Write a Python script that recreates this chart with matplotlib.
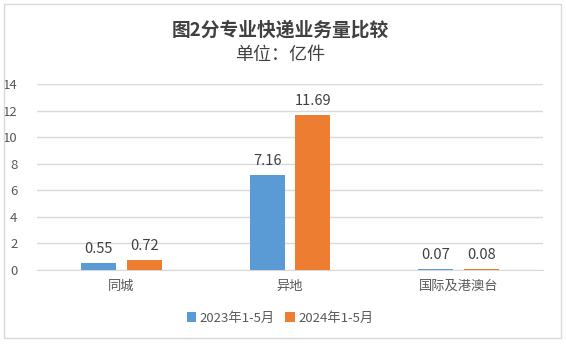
import numpy as np
import matplotlib
matplotlib.use('Agg')
import matplotlib.pyplot as plt
from matplotlib.patches import Rectangle

plt.rcParams['font.family'] = ['Noto Sans CJK SC', 'DejaVu Sans']

# 数据
categories = ['同城', '异地', '国际及港澳台']
series_names = ['2023年1-5月', '2024年1-5月']
values_2023 = [0.55, 7.16, 0.07]
values_2024 = [0.72, 11.69, 0.08]
colors = ['#5B9BD5', '#ED7D31']

W, H = 566, 344
fig = plt.figure(figsize=(W / 100, H / 100), dpi=100)
ax = fig.add_axes([37 / W, (H - 270) / H, (543 - 37) / W, (270 - 84) / H])

x = np.arange(len(categories))
bw = 0.207
off = 0.136
b1 = ax.bar(x - off, values_2023, bw, color=colors[0], label=series_names[0], zorder=3)
b2 = ax.bar(x + off, values_2024, bw, color=colors[1], label=series_names[1], zorder=3)

for bars, vals in ((b1, values_2023), (b2, values_2024)):
    for rect, v in zip(bars, vals):
        ax.annotate(f'{v:.2f}', (rect.get_x() + rect.get_width() / 2, v),
                    xytext=(0, 5), textcoords='offset points',
                    ha='center', va='bottom', fontsize=10.5, color='#404040')

ax.set_xlim(-0.5, 2.5)
ax.set_ylim(0, 14)
ax.set_yticks(range(0, 15, 2))
ax.set_xticks(x)
ax.set_xticklabels(categories)
ax.tick_params(axis='both', length=0, labelsize=9.5, colors='#595959')
ax.tick_params(axis='x', pad=7)
ax.tick_params(axis='y', pad=14)
ax.grid(axis='y', color='#D9D9D9', linewidth=1, zorder=0)
for s in ['top', 'right', 'left']:
    ax.spines[s].set_visible(False)
ax.spines['bottom'].set_color('#D9D9D9')

fig.text(0.495, 1 - 30 / H, '图2分专业快递业务量比较', ha='center', va='center',
         fontsize=13.5, fontweight='bold', color='#404040')
fig.text(0.495, 1 - 55 / H, '单位：亿件', ha='center', va='center',
         fontsize=13, color='#404040')

fig.legend(loc='center', bbox_to_anchor=(0.495, 1 - 318 / H), ncol=2, frameon=False,
           fontsize=9.5, handlelength=0.7, handleheight=0.7, handletextpad=0.3,
           columnspacing=0.8, labelcolor='#595959')

fig.patches.append(Rectangle((4 / W, 6 / H), (561 - 4) / W, (340 - 6) / H,
                             transform=fig.transFigure, fill=False,
                             edgecolor='#D9D9D9', linewidth=1))

fig.savefig('out.png', dpi=100)
